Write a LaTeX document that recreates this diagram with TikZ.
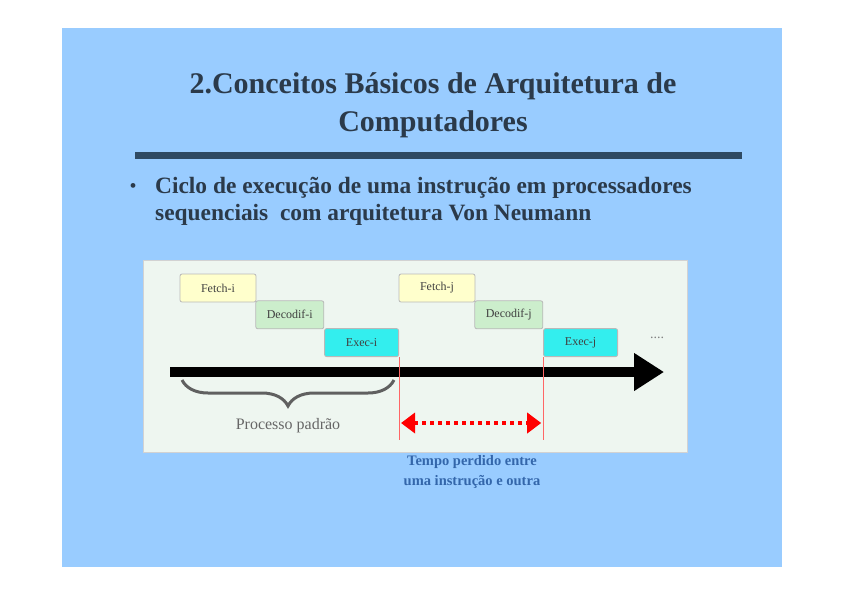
\documentclass[tikz,border=0pt]{standalone}
\usepackage{fontspec}
\setmainfont{Liberation Serif}
\usetikzlibrary{arrows.meta, positioning, calc, decorations.pathreplacing}
\definecolor{slidebg}{HTML}{99CCFF}
\definecolor{panelbg}{HTML}{EEF6F0}
\definecolor{rulecol}{HTML}{2F4A63}
\definecolor{textcol}{HTML}{2B3A4A}
\definecolor{fetchcol}{HTML}{FFFFCC}
\definecolor{decodecol}{HTML}{CCEECC}
\definecolor{execcol}{HTML}{33EEEE}
\definecolor{notecol}{HTML}{3366AA}
\tikzset{
  stage box/.style={
    rectangle, rounded corners=2pt, draw=gray!55, line width=0.8pt,
    minimum height=28pt, inner sep=2pt, text=black!75,
    font=\fontsize{12}{14}\selectfont
  },
  fetch box/.style={stage box, fill=fetchcol, minimum width=76pt},
  decode box/.style={stage box, fill=decodecol, minimum width=68pt},
  exec box/.style={stage box, fill=execcol, minimum width=74pt},
  time arrow/.style={
    -{Triangle[length=30pt,width=36pt]}, line width=10pt, draw=black
  },
  gap arrow/.style={
    {Triangle[length=14pt,width=20pt]}-{Triangle[length=14pt,width=20pt]},
    line width=4pt, draw=red, dash pattern=on 4pt off 4pt
  },
  gap mark/.style={draw=red!60, line width=0.6pt},
  cycle brace/.style={
    draw=gray!75!black, line width=3pt,
    decorate, decoration={brace, mirror, amplitude=26pt}
  }
}
\begin{document}
\begin{tikzpicture}[x=1pt, y=-1pt]
  \useasboundingbox (0,0) rectangle (842,595);
  % slide background
  \fill[slidebg] (62,28) rectangle (782,567);

  \node (title) [align=center, text=textcol, font=\fontsize{30}{38}\selectfont\bfseries]
    at (433,105) {2.Conceitos Básicos de Arquitetura de\\Computadores};
  \draw[rulecol, line width=7pt] (135,155) -- (742,155);

  \node (dot) [text=textcol, font=\fontsize{20}{27}\selectfont] at (133,188) {•};
  \node (item) [anchor=north west, align=left, text=textcol,
    font=\fontsize{23.4}{27}\selectfont\bfseries, inner sep=0pt] at (155,177)
    {Ciclo de execução de uma instrução em processadores\\
     sequenciais\enspace com arquitetura Von Neumann};

  % diagram panel
  \draw[fill=panelbg, draw=gray!35, line width=1pt] (143,260) rectangle (687,452);

  \node (fet i) [fetch box] at (218,288) {Fetch-i};
  \node (dec i) [decode box, below right=-2pt and -1pt of fet i] {Decodif-i};
  \node (exe i) [exec box, below right=-1pt and 0pt of dec i] {Exec-i};

  \node (fet j) [fetch box] at (437,288) {Fetch-j};
  \node (dec j) [decode box, below right=-2pt and -1pt of fet j] {Decodif-j};
  \node (exe j) [exec box, below right=-1pt and 0pt of dec j] {Exec-j};

  \node (more) [text=gray, font=\fontsize{14}{16}\selectfont] at (657,338) {....};

  % time line
  \coordinate (t0) at (170,372);
  \coordinate (t1) at (664,372);
  \draw[time arrow] (t0) -- (t1);

  \coordinate (br l) at (182,380);
  \coordinate (br r) at (394,380);
  \draw[cycle brace] (br l) -- (br r);
  \node (cycle) [text=gray!80!black, font=\fontsize{16}{18}\selectfont] at (288,426) {Processo padrão};

  % lost time between instructions
  \coordinate (gl) at (exe i.south east |- 0,440);
  \coordinate (gr) at (exe j.south west |- 0,440);
  \draw[gap mark] (exe i.south east) -- (gl);
  \draw[gap mark] (exe j.south west) -- (gr);
  \coordinate (ga) at ($(exe i.south east |- 0,423)+(2,0)$);
  \coordinate (gb) at ($(exe j.south west |- 0,423)+(-2,0)$);
  \draw[gap arrow] (ga) -- (gb);

  \node (note) [align=center, text=notecol, font=\fontsize{14.5}{20}\selectfont\bfseries] at (472,472)
    {Tempo perdido entre\\uma instrução e outra};
\end{tikzpicture}
\end{document}
